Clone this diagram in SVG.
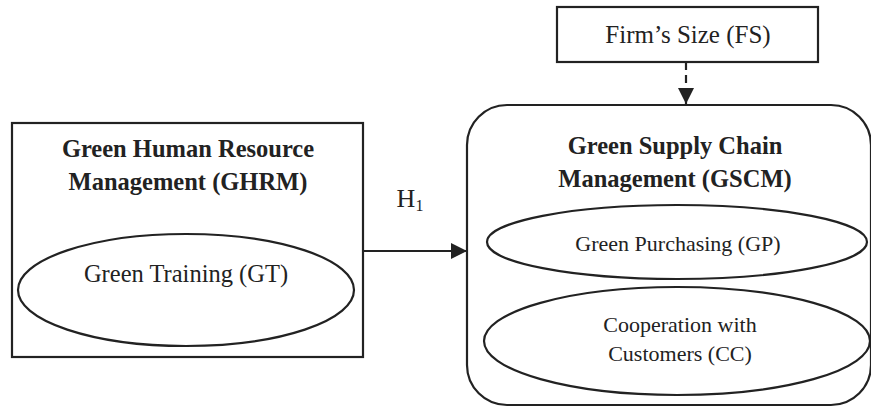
<svg xmlns="http://www.w3.org/2000/svg" width="871" height="407" viewBox="0 0 871 407">
<defs>
<style>
.b{fill:none;stroke:#222;stroke-width:2.2}
.t{font-family:"Liberation Serif","Times New Roman",serif;font-size:22px;fill:#222;text-anchor:middle}
.h{font-weight:bold;font-size:24.5px}
.l{font-size:24.5px}
</style>
<marker id="ah" viewBox="0 0 16 16" refX="16" refY="8" markerWidth="16" markerHeight="16" markerUnits="userSpaceOnUse" orient="auto">
<path d="M0,0 L16,8 L0,16 Z" fill="#222"/>
</marker>
</defs>
<rect width="871" height="407" fill="#fff"/>
<g id="ghrm">
<rect class="b" x="12" y="123" width="351" height="234"/>
<text class="t h" x="188" y="157">Green Human Resource</text>
<text class="t h" x="188" y="190">Management (GHRM)</text>
</g>
<g id="gt">
<ellipse class="b" cx="186" cy="290" rx="168" ry="56"/>
<text class="t l" x="186" y="282">Green Training (GT)</text>
</g>
<g id="fs">
<rect class="b" x="557" y="7" width="261" height="55"/>
<text class="t" x="688" y="43" style="font-size:25px">Firm’s Size (FS)</text>
</g>
<g id="gscm">
<rect class="b" x="467" y="105" width="404" height="300" rx="40" ry="40"/>
<text class="t h" x="675" y="154">Green Supply Chain</text>
<text class="t h" x="675" y="187">Management (GSCM)</text>
</g>
<g id="gp">
<ellipse class="b" cx="677" cy="242" rx="190" ry="37"/>
<text class="t" x="678" y="251">Green Purchasing (GP)</text>
</g>
<g id="cc">
<ellipse class="b" cx="677" cy="341" rx="193" ry="54"/>
<text class="t" x="680" y="332">Cooperation with</text>
<text class="t" x="680" y="361">Customers (CC)</text>
</g>
<g id="connectors">
<line class="b" x1="363" y1="251" x2="467" y2="251" marker-end="url(#ah)"/>
<line class="b" x1="686" y1="62" x2="686" y2="104" stroke-dasharray="8,5" marker-end="url(#ah)"/>
<text class="t" x="410" y="207" style="font-size:26px">H<tspan font-size="16" dy="4">1</tspan></text>
</g>
</svg>
